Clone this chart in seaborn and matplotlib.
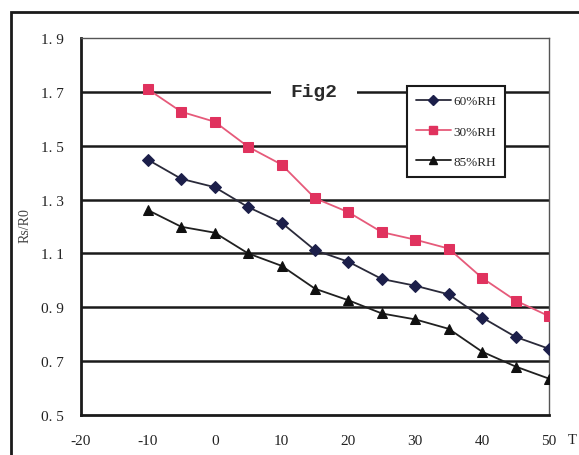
import matplotlib
matplotlib.use("Agg")
import matplotlib.pyplot as plt
import seaborn as sns
import pandas as pd
from matplotlib.patches import Rectangle
from matplotlib.lines import Line2D

# ---- data ----
temps = [-10, -5, 0, 5, 10, 15, 20, 25, 30, 35, 40, 45, 50]
rh60 = [1.448, 1.377, 1.346, 1.272, 1.214, 1.112, 1.069, 1.005, 0.980, 0.948, 0.862, 0.790, 0.746]
rh30 = [1.710, 1.626, 1.589, 1.496, 1.430, 1.305, 1.253, 1.179, 1.151, 1.118, 1.009, 0.925, 0.867]
rh85 = [1.261, 1.199, 1.177, 1.100, 1.054, 0.969, 0.926, 0.877, 0.855, 0.820, 0.735, 0.680, 0.635]
series_names = ["60%RH", "30%RH", "85%RH"]
x_ticks = [-20, -10, 0, 10, 20, 30, 40, 50]
y_ticks = [0.5, 0.7, 0.9, 1.1, 1.3, 1.5, 1.7, 1.9]
title = "Fig2"
y_label = "Rs/R0"

df = pd.DataFrame({
    "T": temps * 3,
    "val": rh60 + rh30 + rh85,
    "series": [series_names[0]] * len(temps) + [series_names[1]] * len(temps) + [series_names[2]] * len(temps),
})

sns.set_style("white")
plt.rcParams["font.family"] = ["Liberation Serif", "DejaVu Serif"]

fig = plt.figure(figsize=(5.79, 4.56), dpi=100)
ax = fig.add_axes([81 / 579, 1 - 416 / 456, (549 - 81) / 579, (416 - 39) / 456])

colors = {"60%RH": "#1c1f4a", "30%RH": "#e0325e", "85%RH": "#101010"}
line_colors = {"60%RH": "#2a2a3a", "30%RH": "#e65a7a", "85%RH": "#202020"}
markers = {"60%RH": "D", "30%RH": "s", "85%RH": "^"}
msize = {"60%RH": 6, "30%RH": 7, "85%RH": 7}

# horizontal grid lines (black, thick)
for yv in y_ticks[1:-1]:
    ax.axhline(yv, color="#1a1a1a", lw=1.8, zorder=1)

for name in series_names:
    sub = df[df["series"] == name]
    sns.lineplot(data=sub, x="T", y="val", ax=ax, color=line_colors[name], lw=1.3,
                 marker=markers[name], markersize=msize[name],
                 markerfacecolor=colors[name], markeredgecolor=colors[name],
                 zorder=3, legend=False)

ax.set_xlim(-20, 50)
ax.set_ylim(0.5, 1.9)
ax.set_xticks(x_ticks)
ax.set_yticks(y_ticks)
ax.set_xticklabels([str(v) for v in x_ticks], fontsize=11, color="#222222")
ax.set_yticklabels([f"{v:.1f}".replace(".", ". ") for v in y_ticks], fontsize=11, color="#222222")
ax.tick_params(axis="x", direction="in", length=5, width=1.5, color="#1a1a1a", pad=14)
ax.tick_params(axis="y", length=0, pad=12)
ax.set_xlabel("")
ax.set_ylabel("")

for side in ["left", "bottom"]:
    ax.spines[side].set_color("#1a1a1a")
    ax.spines[side].set_linewidth(2.0)
for side in ["top", "right"]:
    ax.spines[side].set_color("#555555")
    ax.spines[side].set_linewidth(1.0)

# title with white background masking the grid line
ax.text(14.8, 1.7, title, ha="center", va="center", fontsize=14, fontweight="bold",
        family=["Liberation Mono", "DejaVu Sans Mono"], color="#2a2a2a", zorder=4,
        bbox=dict(boxstyle="square,pad=1.0", facecolor="white", edgecolor="none"))

# legend
handles = [Line2D([0], [0], color=line_colors[n], lw=1.3, marker=markers[n], markersize=msize[n] - 1,
                  markerfacecolor=colors[n], markeredgecolor=colors[n]) for n in series_names]
leg = ax.legend(handles, series_names, loc="upper left",
                bbox_to_anchor=((407 - 81) / (549 - 81), 1 - (87 - 39) / (416 - 39)),
                frameon=True, fancybox=False, framealpha=1, edgecolor="#1a1a1a",
                prop={"family": ["Liberation Serif"], "size": 9.5}, handlelength=2.6,
                handletextpad=0.2, labelspacing=1.35, borderpad=0.7, borderaxespad=0)
leg.get_frame().set_linewidth(1.5)
leg.set_zorder(5)

ax.text(-0.12, 0.505, y_label, transform=ax.transAxes, rotation=90, ha="center", va="center",
        fontsize=10, color="#444444")

# outer frame
fig.patches.append(Rectangle((11 / 579, -0.1), 1.2, 1 - 13 / 456 + 0.1, transform=fig.transFigure,
                             fill=False, edgecolor="#1a1a1a", lw=2.0, clip_on=False))
fig.text(568 / 579, 1 - 441 / 456, "T", fontsize=10.5, color="#222222", va="center", ha="left")

fig.savefig("out.png", dpi=100)
